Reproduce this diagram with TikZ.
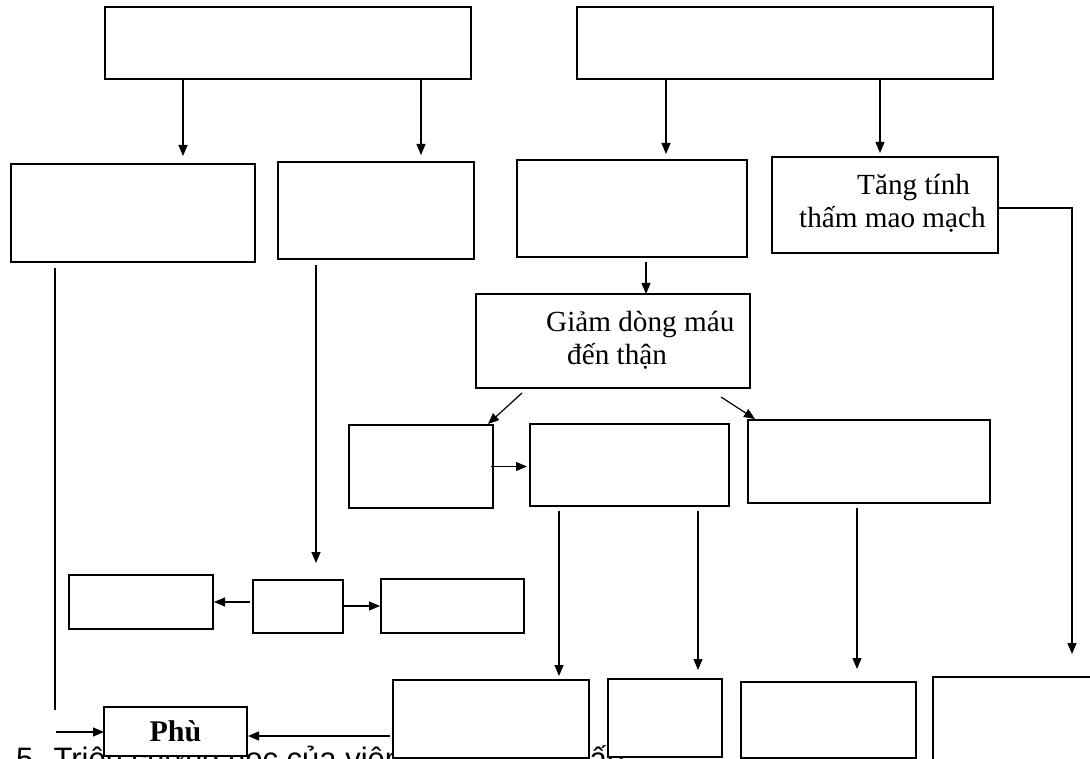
\documentclass[tikz,border=0pt]{standalone}
\usepackage{fontspec}
\setmainfont{Liberation Serif}
\setsansfont{Liberation Sans}
\usetikzlibrary{arrows.meta,calc}
\begin{document}
\begin{tikzpicture}[x=1pt,y=-1pt,
  box/.style={draw, line width=1.8pt, fill=white, inner sep=0pt, outer sep=0pt, anchor=north west},
  arr/.style={line width=1.2pt, -{Triangle[length=11pt,width=9pt]}},
  link/.style={line width=1.2pt},
  lbl/.style={inner sep=0pt, anchor=base west, font=\fontsize{29.2}{33}\selectfont},
  captxt/.style={inner sep=0pt, anchor=base west, font=\sffamily\fontsize{31}{36}\selectfont}]
\useasboundingbox (0,0) rectangle (1090,759);
\clip (0,0) rectangle (1090,759);
\fill[white] (0,0) rectangle (1090,759);

% heading line, partly covered by the lower boxes
\node[captxt] (cap1) at (16,769) {5. Triệu chứng học của viêm cầu thận};
\node[captxt] (cap2) at (574,769) {cấp};

% top row
\node[box, minimum width=366pt, minimum height=72pt] (A) at (105,7) {};
\node[box, minimum width=416pt, minimum height=72pt] (D) at (577,7) {};

% second row
\node[box, minimum width=244pt, minimum height=98pt] (B) at (11,164) {};
\node[box, minimum width=196pt, minimum height=97pt] (C) at (278,162) {};
\node[box, minimum width=230pt, minimum height=97pt] (E) at (517,160) {};
\node[box, minimum width=226pt, minimum height=96pt] (F) at (772,157) {};
\node[lbl] (tF1) at (857,195) {Tăng tính};
\node[lbl] (tF2) at (799,228) {thấm mao mạch};

% renal blood flow
\node[box, minimum width=274pt, minimum height=94pt] (G) at (476,294) {};
\node[lbl] (tG1) at (546,332) {Giảm dòng máu};
\node[lbl] (tG2) at (567,364) {đến thận};

% third row
\node[box, minimum width=144pt, minimum height=83pt] (H) at (349,425) {};
\node[box, minimum width=199pt, minimum height=82pt] (I) at (530,424) {};
\node[box, minimum width=242pt, minimum height=83pt] (J) at (748,420) {};

% small middle-left group
\node[box, minimum width=144pt, minimum height=54pt] (O) at (69,575) {};
\node[box, minimum width=90pt, minimum height=53pt] (P) at (253,580) {};
\node[box, minimum width=143pt, minimum height=54pt] (Q) at (381,579) {};

% bottom row
\node[box, minimum width=143pt, minimum height=49pt,
      font=\bfseries\fontsize{30}{34}\selectfont] (S) at (104,707) {Phù};
\node[box, minimum width=196pt, minimum height=78pt] (K) at (393,680) {};
\node[box, minimum width=114pt, minimum height=78pt] (L) at (608,679) {};
\node[box, minimum width=175pt, minimum height=76pt] (M) at (741,682) {};
\node[box, minimum width=170pt, minimum height=95pt] (N) at (933,677) {};

% connectors
\draw[arr] (A.south -| 183,0) -- ($(B.north -| 183,0)+(0,-8)$);
\draw[arr] (A.south -| 421,0) -- ($(C.north -| 421,0)+(0,-7)$);
\draw[arr] (D.south -| 666,0) -- ($(E.north -| 666,0)+(0,-6)$);
\draw[arr] (D.south -| 880,0) -- ($(F.north -| 880,0)+(0,-4)$);
\draw[arr] ($(E.south -| 646,0)+(0,5)$) -- (G.north -| 646,0);
\draw[arr] ($(G.south -| 522,0)+(0,5)$) -- ($(H.north east)+(-5,-1)$);
\draw[arr] ($(G.south -| 721,0)+(0,9)$) -- ($(J.north west)+(7,-1)$);
\draw[arr] ($(H.east)+(-2,0)$) -- ($(I.west |- H.east)+(-3,0)$);
\draw[arr] ($(I.south -| 559,0)+(0,5)$) -- ($(K.north -| 559,0)+(0,-4)$);
\draw[arr] ($(I.south -| 698,0)+(0,5)$) -- ($(L.north -| 698,0)+(0,-9)$);
\draw[arr] ($(J.south -| 857,0)+(0,5)$) -- ($(M.north -| 857,0)+(0,-13)$);
\draw[arr] (F.east |- 0,208) -| ($(N.north -| 1072,0)+(0,-23)$);

\coordinate (bEnd) at (55,710);
\draw[link] ($(B.south -| 55,0)+(0,6)$) -- (bEnd);
\coordinate (sIn) at (56,732);
\draw[arr] (sIn) -- (S.west |- sIn);

\draw[arr] ($(C.south -| 316,0)+(0,6)$) -- ($(P.north -| 316,0)+(0,-17)$);
\draw[arr] ($(P.west |- 0,602)+(-3,0)$) -- ($(O.east |- 0,602)+(1,0)$);
\draw[arr] (P.east |- 0,606) -- ($(Q.west |- 0,606)+(-1,0)$);
\draw[arr] ($(K.west |- 0,736)+(-3,0)$) -- ($(S.east |- 0,736)+(1,0)$);
\end{tikzpicture}
\end{document}
